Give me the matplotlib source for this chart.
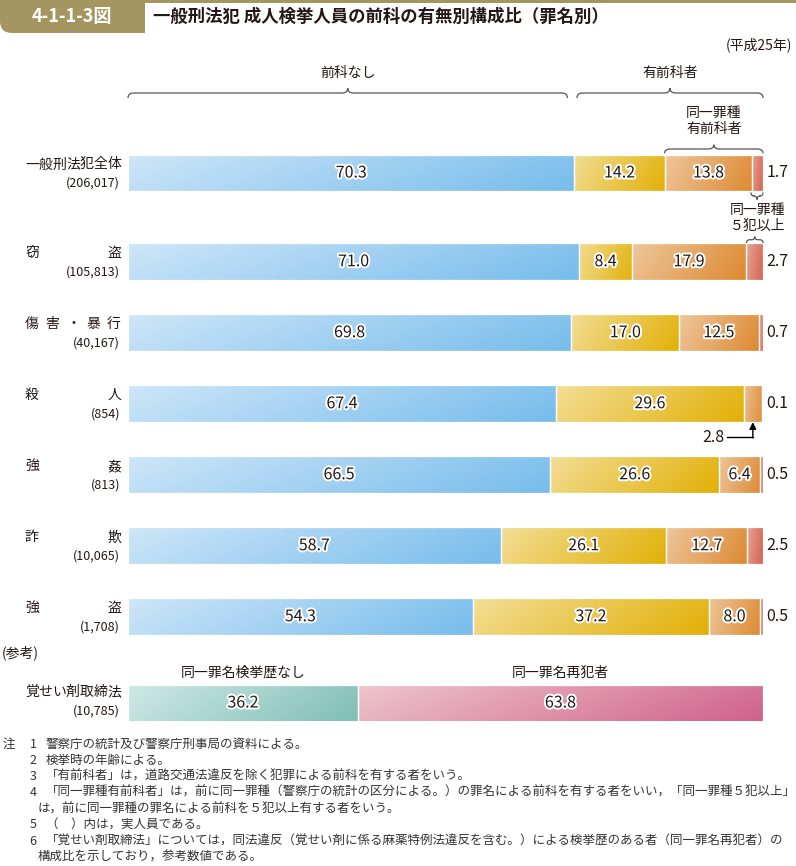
import numpy as np
import matplotlib
matplotlib.use("Agg")
import matplotlib.pyplot as plt
import matplotlib.patheffects as pe
from matplotlib.path import Path
from matplotlib.patches import PathPatch, FancyBboxPatch
from matplotlib.colors import to_rgb
import matplotlib.transforms as mtransforms

plt.rcParams['font.family'] = ['Noto Sans CJK JP', 'DejaVu Sans']

# data (平成25年)
categories = ['一般刑法犯全体', '窃盗', '傷害・暴行', '殺人', '強姦', '詐欺', '強盗']
counts = ['206,017', '105,813', '40,167', '854', '813', '10,065', '1,708']
no_prior = [70.3, 71.0, 69.8, 67.4, 66.5, 58.7, 54.3]
prior_other = [14.2, 8.4, 17.0, 29.6, 26.6, 26.1, 37.2]
same_type = [13.8, 17.9, 12.5, 2.8, 6.4, 12.7, 8.0]
same_5plus = [1.7, 2.7, 0.7, 0.1, 0.5, 2.5, 0.5]

ref_name = '覚せい剤取締法'
ref_count = '10,785'
ref_labels = ['同一罪名検挙歴なし', '同一罪名再犯者']
ref_values = [36.2, 63.8]

notes = [
    ('注', '1', '警察庁の統計及び警察庁刑事局の資料による。'),
    ('', '2', '検挙時の年齢による。'),
    ('', '3', '「有前科者」は，道路交通法違反を除く犯罪による前科を有する者をいう。'),
    ('', '4', '「同一罪種有前科者」は，前に同一罪種（警察庁の統計の区分による。）の罪名による前科を有する者をいい，「同一罪種５犯以上」'),
    ('', '', 'は，前に同一罪種の罪名による前科を５犯以上有する者をいう。'),
    ('', '5', '（　）内は，実人員である。'),
    ('', '6', '「覚せい剤取締法」については，同法違反（覚せい剤に係る麻薬特例法違反を含む。）による検挙歴のある者（同一罪名再犯者）の'),
    ('', '', '構成比を示しており，参考数値である。'),
]

W, H = 796, 866
ypos = [0, 1.25, 2.25, 3.25, 4.25, 5.25, 6.25]
bar_h = 0.52
XMAX = 103  # a little room right of 100 % so bar ends are not on the axes edge

seg_colors = [('#d0e7f9', '#74bbeb'), ('#f3e09c', '#e1ae00'),
              ('#efcaa2', '#dc862c'), ('#ebb6a6', '#d2503f')]
ref_colors = [('#d2eae6', '#7dbdb5'), ('#efc8cf', '#cf5f88')]
gold = '#a59561'
dark = '#231815'

fig = plt.figure(figsize=(W / 100, H / 100), dpi=100)


def px_axes(x0, y0, x1, y1):
    return fig.add_axes([x0 / W, 1 - y1 / H, (x1 - x0) / W, (y1 - y0) / H])


def gradient_fill(ax, rect, c0, c1):
    # diagonal gradient image, clipped to the bar rectangle
    x, y, w, h = rect.get_x(), rect.get_y(), rect.get_width(), rect.get_height()
    gx, gy = np.meshgrid(np.linspace(0, 1, 200), np.linspace(0, 1, 40))
    t = (0.8 * gx + 0.2 * gy)[..., None]
    img = (1 - t) * np.array(to_rgb(c0)) + t * np.array(to_rgb(c1))
    pad = 0.6
    im = ax.imshow(img, extent=(x - pad, x + w + pad, y + h + 0.05, y - 0.05),
                   aspect='auto', interpolation='bilinear', zorder=1)
    im.set_clip_path(rect)


def brace(ax, x0, x1, y, h, r, up=True):
    # curly brace; tip points up (toward smaller y on screen) when up=True
    s = -1 if up else 1
    xm = (x0 + x1) / 2
    verts = [(x0, y - s * h), (x0, y), (x0 + r, y), (xm - r, y), (xm, y),
             (xm, y + s * h), (xm, y), (xm + r, y), (x1 - r, y), (x1, y),
             (x1, y - s * h)]
    codes = [Path.MOVETO, Path.CURVE3, Path.CURVE3, Path.LINETO, Path.CURVE3,
             Path.CURVE3, Path.CURVE3, Path.CURVE3, Path.LINETO, Path.CURVE3,
             Path.CURVE3]
    ax.add_patch(PathPatch(Path(verts, codes), fc='none', ec='#555555',
                           lw=0.9, clip_on=False, zorder=3))


stroke = [pe.withStroke(linewidth=2.8, foreground='white')]

# ---- title band ----
tab = Path([(0, 866), (145, 866), (145, 833), (12, 833), (0, 833), (0, 845),
            (0, 866)],
           [Path.MOVETO, Path.LINETO, Path.LINETO, Path.LINETO, Path.CURVE3,
            Path.CURVE3, Path.CLOSEPOLY])
tab_tr = mtransforms.Affine2D().scale(1 / W, 1 / H) + fig.transFigure
fig.patches.append(PathPatch(tab, fc=gold, ec='none', transform=tab_tr))
fig.patches.append(FancyBboxPatch((0, 1 - 3 / H), 1, 3 / H,
                                  boxstyle='square,pad=0', fc=gold, ec='none',
                                  transform=fig.transFigure))
fig.text(72 / W, 1 - 17 / H, '4-1-1-3図', color='white', fontsize=13,
         fontweight='bold', ha='center', va='center')
fig.text(153 / W, 1 - 17 / H, '一般刑法犯 成人検挙人員の前科の有無別構成比（罪名別）',
         color=dark, fontsize=12.5, fontweight='bold', ha='left', va='center')
fig.text(792 / W, 1 - 45 / H, '(平成25年)', fontsize=10, color=dark,
         ha='right', va='center')

# ---- main chart ----
ax = px_axes(128, 60, 128 + 6.35 * XMAX, 650)

series = [no_prior, prior_other, same_type, same_5plus]
left = np.zeros(len(categories))
for k, vals in enumerate(series):
    bars = ax.barh(ypos, vals, left=left, height=bar_h, fc='none',
                   ec='white', lw=0.9, zorder=2)
    for i, rect in enumerate(bars):
        gradient_fill(ax, rect, *seg_colors[k])
        cx = rect.get_x() + rect.get_width() / 2
        if k < 2 or (k == 2 and vals[i] >= 5):
            ax.text(cx, ypos[i], f'{vals[i]:.1f}', ha='center', va='center',
                    fontsize=11.5, color=dark, path_effects=stroke, zorder=4)
        elif k == 3:
            ax.text(100.5, ypos[i], f'{vals[i]:.1f}', ha='left', va='center',
                    fontsize=11.5, color=dark, clip_on=False)
        else:
            # small segment: callout below the bar
            yb = ypos[i] + bar_h / 2
            yl = ypos[i] + 0.47
            ax.plot([94.3, cx], [yl, yl], color='black', lw=1, clip_on=False)
            ax.annotate('', xy=(cx, yb), xytext=(cx, yl + 0.01),
                        arrowprops=dict(arrowstyle='-|>', color='black', lw=1,
                                        mutation_scale=10, shrinkA=0, shrinkB=0))
            ax.text(93.9, yl, f'{vals[i]:.1f}', ha='right', va='center',
                    fontsize=11.5, color=dark)
    left += np.array(vals)
ax.set_xlim(0, XMAX)
ax.set_ylim((650 - 173) / 71, (60 - 173) / 71)
ax.axis('off')

# braces and group labels
yb0 = (93 - 173) / 71
brace(ax, 0, no_prior[0] - 1.1, yb0, 0.07, 0.9)
brace(ax, no_prior[0] + 0.4, 100, yb0, 0.07, 0.9)
ax.text((no_prior[0] - 1.1) / 2, (73 - 173) / 71, '前科なし', ha='center',
        va='center', fontsize=10, color=dark)
ax.text((no_prior[0] + 100.4) / 2, (73 - 173) / 71, '有前科者', ha='center',
        va='center', fontsize=10, color=dark)
x_st = no_prior[0] + prior_other[0]
brace(ax, x_st, 100, (149 - 173) / 71, 0.06, 0.9)
ax.text((x_st + 100) / 2, (121 - 173) / 71, '同一罪種\n有前科者', ha='center',
        va='center', fontsize=10, color=dark, linespacing=1.15)
x5 = 100 - same_5plus[0]
brace(ax, x5 - 0.2, 100, (196 - 173) / 71, 0.05, 0.5, up=False)
x5b = 100 - same_5plus[1]
brace(ax, x5b + 0.1, 100, ypos[1] - bar_h / 2 - 0.05, 0.045, 0.5)
ax.text(99.1, (218 - 173) / 71, '同一罪種\n５犯以上', ha='center', va='center',
        fontsize=10, color=dark, linespacing=1.15, clip_on=False)

# category labels (justified between 25px and 121px)
lab_tr = mtransforms.blended_transform_factory(fig.transFigure, ax.transData)


def justified(name, y, transform):
    n = len(name)
    x0, x1 = 25 + 6.9, 121 - 6.9
    xs = [x1] if n == 1 else np.linspace(x0, x1, n)
    for ch, xc in zip(name, xs):
        fig.text(xc / W, y, ch, transform=transform, ha='center',
                 va='center', fontsize=10, color=dark)


for i, name in enumerate(categories):
    justified(name, ypos[i] - 0.12, lab_tr)
    fig.text(120 / W, ypos[i] + 0.14, f'({counts[i]})', transform=lab_tr,
             ha='right', va='center', fontsize=9, color=dark)

# ---- reference bar ----
fig.text(2 / W, 1 - 653 / H, '(参考)', fontsize=10, color=dark,
         ha='left', va='center')
ax2 = px_axes(128, 676, 128 + 6.35 * XMAX, 730)
left2 = 0
for k, v in enumerate(ref_values):
    b = ax2.barh([0], [v], left=left2, height=37 / 54, fc='none', ec='white',
                 lw=0.9, zorder=2)
    gradient_fill(ax2, b[0], *ref_colors[k])
    ax2.text(left2 + v / 2, 0, f'{v:.1f}', ha='center', va='center',
             fontsize=11.5, color=dark, path_effects=stroke, zorder=4)
    ax2.text(left2 + v / 2, (673 - 703) / 54, ref_labels[k], ha='center',
             va='center', fontsize=10, color=dark, clip_on=False)
    left2 += v
ax2.set_xlim(0, XMAX)
ax2.set_ylim(0.5, -0.5)
ax2.axis('off')
ref_tr = mtransforms.blended_transform_factory(fig.transFigure, ax2.transData)
justified(ref_name, (692 - 703) / 54, ref_tr)
fig.text(120 / W, (711 - 703) / 54, f'({ref_count})', transform=ref_tr,
         ha='right', va='center', fontsize=9, color=dark)

# ---- notes ----
nfs = 9.0
for j, (head, num, body) in enumerate(notes):
    y = 1 - (744 + j * 16.2) / H
    if head:
        fig.text(3 / W, y, head, fontsize=nfs, color='#333333', va='center')
    if num:
        fig.text(33 / W, y, num, fontsize=nfs, color='#333333', va='center',
                 ha='center')
        fig.text(46 / W, y, body, fontsize=nfs, color='#333333', va='center')
    else:
        fig.text(38 / W, y, body, fontsize=nfs, color='#333333', va='center')

fig.savefig('out.png', dpi=100)
